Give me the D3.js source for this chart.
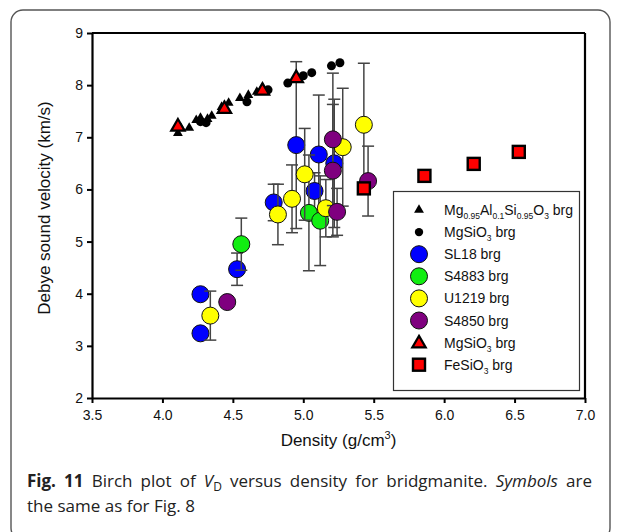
<!DOCTYPE html>
<html>
<head>
<meta charset="utf-8">
<script src="https://cdn.jsdelivr.net/npm/d3@7"></script>
<style>
  html, body { margin: 0; padding: 0; background: #fff; }
  svg { display: block; }
</style>
</head>
<body>
<svg id="chart" width="621" height="532"></svg>
<script>
// Tick values
const xTicks = [3.5, 4.0, 4.5, 5.0, 5.5, 6.0, 6.5, 7.0];
const yTicks = [2, 3, 4, 5, 6, 7, 8, 9];

// Each point: [density g/cm3, Debye velocity km/s, error]
const mgAlTriangles = [
  [4.11, 7.08], [4.13, 7.18], [4.19, 7.18], [4.24, 7.33], [4.27, 7.37],
  [4.32, 7.35], [4.35, 7.41], [4.42, 7.58], [4.47, 7.66], [4.55, 7.75],
  [4.61, 7.81], [4.67, 7.87], [4.71, 7.95]
];
const mgSiDots = [
  [4.27, 7.30], [4.31, 7.28], [4.60, 7.68], [4.75, 7.91], [4.89, 8.04],
  [5.00, 8.18], [5.06, 8.24], [5.20, 8.37], [5.26, 8.43]
];
const sl18 = [
  [4.27, 3.99, 0], [4.27, 3.24, 0], [4.53, 4.47, 0.31], [4.79, 5.75, 0.35],
  [4.95, 6.85, 1.60], [5.08, 5.97, 0.35], [5.11, 6.67, 1.14], [5.22, 6.50, 1.23]
];
const s4883 = [
  [4.56, 4.95, 0.50], [5.04, 5.55, 1.11], [5.12, 5.40, 0.86]
];
const u1219 = [
  [4.34, 3.58, 0.47], [4.82, 5.52, 0.58], [4.92, 5.82, 0.65], [5.01, 6.29, 0.88],
  [5.16, 5.64, 0.55], [5.28, 6.81, 1.13], [5.43, 7.24, 1.18]
];
const s4850 = [
  [4.46, 3.84, 0], [5.21, 6.96, 1.27], [5.21, 6.36, 1.27], [5.24, 5.57, 0.45],
  [5.46, 6.16, 0.67]
];
const mgSiO3Red = [
  [4.11, 7.22], [4.44, 7.56], [4.71, 7.91], [4.95, 8.15]
];
const feSiO3 = [
  [5.43, 6.02], [5.86, 6.26], [6.21, 6.49], [6.53, 6.72]
];

const svg = d3.select("#chart");
const font = "'Liberation Sans', Arial, sans-serif";

// Outer rounded frame
svg.append("rect")
  .attr("x", 11).attr("y", 10).attr("width", 599).attr("height", 530)
  .attr("rx", 12).attr("ry", 12)
  .attr("fill", "none").attr("stroke", "#555").attr("stroke-width", 1.4);

const x = d3.scaleLinear().domain([3.5, 7.0]).range([92, 585]);
const y = d3.scaleLinear().domain([2, 9]).range([398, 33]);

// Axes
const xAxis = svg.append("g").attr("transform", `translate(0,${y(2)})`)
  .call(d3.axisBottom(x).tickValues(xTicks).tickFormat(d3.format(".1f"))
    .tickSize(5).tickSizeOuter(0).tickPadding(7));
const yAxis = svg.append("g").attr("transform", `translate(${x(3.5)},0)`)
  .call(d3.axisLeft(y).tickValues(yTicks).tickFormat(d3.format("d"))
    .tickSize(5).tickSizeOuter(0).tickPadding(4));
[xAxis, yAxis].forEach(g => {
  g.select(".domain").attr("stroke", "#000").attr("stroke-width", 2.2);
  g.selectAll(".tick line").attr("stroke", "#000").attr("stroke-width", 2);
  g.selectAll(".tick text").attr("font-family", font).attr("font-size", 14).attr("fill", "#111");
});
// Top and right frame lines
svg.append("line").attr("x1", x(3.5)).attr("x2", x(7.0)).attr("y1", y(9)).attr("y2", y(9))
  .attr("stroke", "#000").attr("stroke-width", 2.2);
svg.append("line").attr("x1", x(7.0)).attr("x2", x(7.0)).attr("y1", y(9)).attr("y2", y(2))
  .attr("stroke", "#000").attr("stroke-width", 2.2);

// Axis titles
svg.append("text")
  .attr("transform", `translate(50,208) rotate(-90)`)
  .attr("text-anchor", "middle").attr("font-family", font).attr("font-size", 17).attr("fill", "#111")
  .text("Debye sound velocity (km/s)");
const xt = svg.append("text")
  .attr("x", (x(3.5) + x(7.0)) / 2).attr("y", 446)
  .attr("text-anchor", "middle").attr("font-family", font).attr("font-size", 17).attr("fill", "#111");
xt.append("tspan").text("Density (g/cm");
xt.append("tspan").attr("font-size", 11).attr("dy", -7).text("3");
xt.append("tspan").attr("dy", 7).text(")");

const plot = svg.append("g");

// Symbol drawing helpers
const triSmall = d3.symbol().type(d3.symbolTriangle).size(42);
const triBig = d3.symbol().type(d3.symbolTriangle).size(78);

function errorBars(g, data) {
  const eb = data.filter(d => d[2] > 0);
  g.selectAll(null).data(eb).join("line")
    .attr("x1", d => x(d[0])).attr("x2", d => x(d[0]))
    .attr("y1", d => y(d[1] + d[2])).attr("y2", d => y(d[1] - d[2]))
    .attr("stroke", "#444").attr("stroke-width", 1.5);
  [1, -1].forEach(s => {
    g.selectAll(null).data(eb).join("line")
      .attr("x1", d => x(d[0]) - 6).attr("x2", d => x(d[0]) + 6)
      .attr("y1", d => y(d[1] + s * d[2])).attr("y2", d => y(d[1] + s * d[2]))
      .attr("stroke", "#444").attr("stroke-width", 1.5);
  });
}

function circles(g, data, color) {
  errorBars(g, data);
  g.selectAll(null).data(data).join("circle")
    .attr("cx", d => x(d[0])).attr("cy", d => y(d[1])).attr("r", 8.5)
    .attr("fill", color).attr("stroke", "#111").attr("stroke-width", 1);
}

plot.selectAll(null).data(mgAlTriangles).join("path")
  .attr("d", triSmall).attr("transform", d => `translate(${x(d[0])},${y(d[1])})`)
  .attr("fill", "#000");
plot.selectAll(null).data(mgSiDots).join("circle")
  .attr("cx", d => x(d[0])).attr("cy", d => y(d[1])).attr("r", 4.5).attr("fill", "#000");

const colors = { sl18: "#0000ff", s4883: "#11ee11", u1219: "#ffff00", s4850: "#7f007f" };
circles(plot.append("g"), sl18, colors.sl18);
circles(plot.append("g"), s4883, colors.s4883);
circles(plot.append("g"), u1219, colors.u1219);
circles(plot.append("g"), s4850, colors.s4850);

plot.selectAll(null).data(mgSiO3Red).join("path")
  .attr("d", triBig).attr("transform", d => `translate(${x(d[0])},${y(d[1]) + 1})`)
  .attr("fill", "#ff0000").attr("stroke", "#000").attr("stroke-width", 2.2);
plot.selectAll(null).data(feSiO3).join("rect")
  .attr("x", d => x(d[0]) - 6).attr("y", d => y(d[1]) - 6).attr("width", 12).attr("height", 12)
  .attr("fill", "#ff0000").attr("stroke", "#000").attr("stroke-width", 2.4);

// Legend
const legend = svg.append("g");
legend.append("rect").attr("x", 393.5).attr("y", 191.5).attr("width", 186).attr("height", 199)
  .attr("fill", "#fff").attr("stroke", "#333").attr("stroke-width", 1.2);

const legendItems = [
  { kind: "triSmall", label: [["Mg", 0], ["0.95", 1], ["Al", 0], ["0.1", 1], ["Si", 0], ["0.95", 1], ["O", 0], ["3", 1], [" brg", 0]] },
  { kind: "dot", label: [["MgSiO", 0], ["3", 1], [" brg", 0]] },
  { kind: "circle", color: colors.sl18, label: [["SL18 brg", 0]] },
  { kind: "circle", color: colors.s4883, label: [["S4883 brg", 0]] },
  { kind: "circle", color: colors.u1219, label: [["U1219 brg", 0]] },
  { kind: "circle", color: colors.s4850, label: [["S4850 brg", 0]] },
  { kind: "triBig", label: [["MgSiO", 0], ["3", 1], [" brg", 0]] },
  { kind: "square", label: [["FeSiO", 0], ["3", 1], [" brg", 0]] }
];

legendItems.forEach((item, i) => {
  const cy = 210 + i * 22.1;
  const sx = 419;
  if (item.kind === "triSmall") {
    legend.append("path").attr("d", triSmall).attr("transform", `translate(${sx},${cy})`).attr("fill", "#000");
  } else if (item.kind === "dot") {
    legend.append("circle").attr("cx", sx).attr("cy", cy).attr("r", 4.2).attr("fill", "#000");
  } else if (item.kind === "circle") {
    legend.append("circle").attr("cx", sx).attr("cy", cy).attr("r", 8.5)
      .attr("fill", item.color).attr("stroke", "#111").attr("stroke-width", 1);
  } else if (item.kind === "triBig") {
    legend.append("path").attr("d", triBig).attr("transform", `translate(${sx},${cy + 1})`)
      .attr("fill", "#ff0000").attr("stroke", "#000").attr("stroke-width", 2.2);
  } else {
    legend.append("rect").attr("x", sx - 6).attr("y", cy - 6).attr("width", 12).attr("height", 12)
      .attr("fill", "#ff0000").attr("stroke", "#000").attr("stroke-width", 2.4);
  }
  const t = legend.append("text").attr("x", 444).attr("y", cy + 5)
    .attr("font-family", font).attr("font-size", 14).attr("fill", "#111");
  let sub = 0;
  item.label.forEach(([s, isSub]) => {
    const span = t.append("tspan").text(s);
    if (isSub && !sub) { span.attr("font-size", 8.5).attr("dy", 4); sub = 1; }
    else if (isSub) { span.attr("font-size", 8.5); }
    else if (!isSub && sub) { span.attr("dy", -4); sub = 0; }
  });
});

// Caption: a justified paragraph, first line stretched to the full width
const capFont = "'Open Sans', 'Noto Sans', sans-serif";
const capLeft = 27, capRight = 592;
const c1 = svg.append("text").attr("x", capLeft).attr("y", 487)
  .attr("font-family", capFont).attr("font-size", 17).attr("fill", "#222");
c1.append("tspan").attr("font-weight", "bold").text("Fig. 11");
c1.append("tspan").text(" Birch plot of ");
c1.append("tspan").attr("font-style", "italic").text("V");
c1.append("tspan").attr("font-size", 12).attr("dy", 4).text("D");
c1.append("tspan").attr("dy", -4).text(" versus density for bridgmanite. ");
c1.append("tspan").attr("font-style", "italic").text("Symbols");
c1.append("tspan").text(" are");
const natural = c1.node().getComputedTextLength();
const gaps = (c1.text().match(/ /g) || []).length;
if (gaps > 0 && natural < capRight - capLeft) {
  c1.attr("word-spacing", (capRight - capLeft - natural) / gaps);
}
svg.append("text").attr("x", capLeft).attr("y", 512)
  .attr("font-family", capFont).attr("font-size", 17).attr("fill", "#222")
  .text("the same as for Fig. 8");
</script>
</body>
</html>
